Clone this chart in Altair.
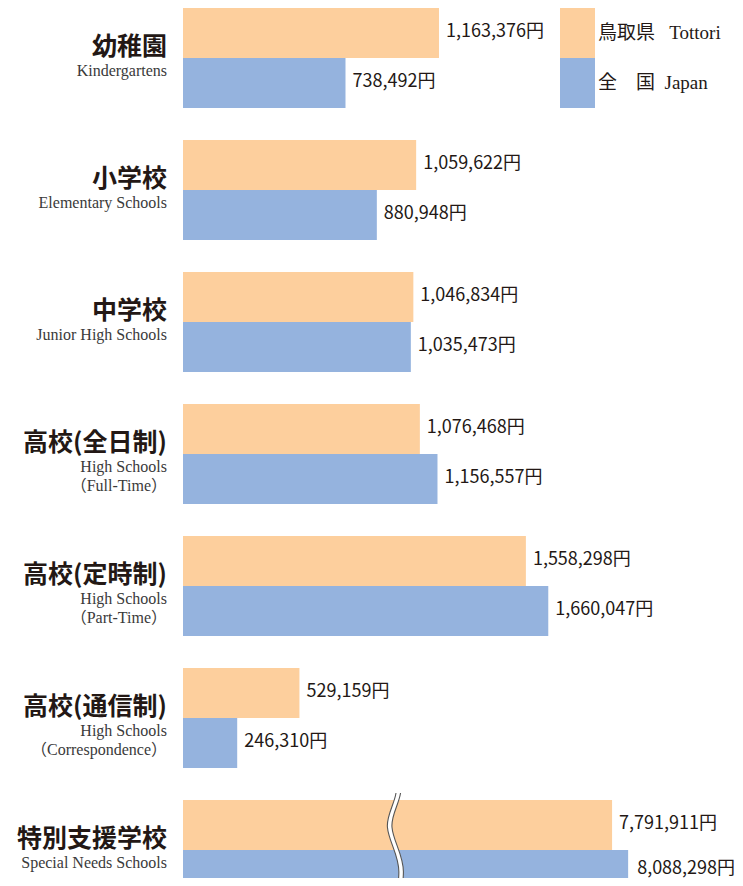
import altair as alt
import pandas as pd

# ---- data ----
categories_ja = ["幼稚園", "小学校", "中学校", "高校(全日制)", "高校(定時制)", "高校(通信制)", "特別支援学校"]
categories_en1 = ["Kindergartens", "Elementary Schools", "Junior High Schools", "High Schools",
                  "High Schools", "High Schools", "Special Needs Schools"]
categories_en2 = ["", "", "", "（Full-Time）", "（Part-Time）", "（Correspondence）", ""]
series = ["鳥取県", "全国"]
series_legend = ["鳥取県\u00a0\u00a0\u00a0Tottori", "全　国\u00a0\u00a0Japan"]
tottori = [1163376, 1059622, 1046834, 1076468, 1558298, 529159, 7791911]
japan = [738492, 880948, 1035473, 1156557, 1660047, 246310, 8088298]
# broken-axis category: drawn bar lengths (in axis units) after the break
broken_category = "特別支援学校"
broken_drawn = {"鳥取県": 1950000, "全国": 2023000}
break_at = 955000
colors = ["#FDCF9D", "#95B3DE"]

rows = []
for i, c in enumerate(categories_ja):
    for s, vals in zip(series, [tottori, japan]):
        v = vals[i]
        pv = broken_drawn[s] if c == broken_category else v
        last = (c == broken_category and s == series[1])
        rows.append({"cat": c, "series": s, "value": v, "plot_value": pv,
                     "label": f"{v:,}円", "last": last})
bars_df = pd.DataFrame(rows)
labels_df = pd.DataFrame({"cat": categories_ja, "en1": categories_en1, "en2": categories_en2})
legend_df = pd.DataFrame({"cat": [categories_ja[0]] * 2, "series": series, "text": series_legend})
break_df = pd.DataFrame({"cat": [broken_category], "x": [break_at]})

y_enc = alt.Y("cat:N", sort=categories_ja, axis=None,
              scale=alt.Scale(paddingInner=32 / 132, paddingOuter=0, range=[0, 892]))
yoff_enc = alt.YOffset("series:N", sort=series, scale=alt.Scale(paddingInner=0, paddingOuter=0))
x_scale = alt.Scale(domain=[0, 2545000], range=[0, 560], nice=False, zero=True)
color_enc = alt.Color("series:N", sort=series, scale=alt.Scale(domain=series, range=colors), legend=None)

bars = alt.Chart(bars_df).mark_bar(opacity=1).encode(
    x=alt.X("plot_value:Q", scale=x_scale, axis=None),
    y=y_enc, yOffset=yoff_enc, color=color_enc,
)
value_text = alt.Chart(bars_df).transform_filter("!datum.last").mark_text(
    align="left", baseline="middle", dx=7, dy=-1, fontSize=18, font="Noto Sans CJK JP", color="#231815"
).encode(
    x=alt.X("plot_value:Q", scale=x_scale, axis=None),
    y=y_enc, yOffset=yoff_enc, text="label:N",
)
value_text_last = alt.Chart(bars_df).transform_filter("datum.last").mark_text(
    align="left", baseline="middle", dx=9, dy=-6, fontSize=18, font="Noto Sans CJK JP", color="#231815"
).encode(
    x=alt.X("plot_value:Q", scale=x_scale, axis=None),
    y=y_enc, yOffset=yoff_enc, text="label:N",
)

title_ja = alt.Chart(labels_df).mark_text(
    align="right", baseline="middle", dy=-11, fontSize=25, fontWeight="bold",
    font="Noto Sans CJK JP", color="#231815"
).encode(x=alt.value(-16), y=y_enc, text="cat:N")
title_en1 = alt.Chart(labels_df).mark_text(
    align="right", baseline="middle", dy=13, fontSize=16,
    font="Liberation Serif, Noto Sans CJK JP", color="#3a3a3a"
).encode(x=alt.value(-16), y=y_enc, text="en1:N")
title_en2 = alt.Chart(labels_df).mark_text(
    align="right", baseline="middle", dy=32, fontSize=16,
    font="Liberation Serif, Noto Sans CJK JP", color="#3a3a3a"
).encode(x=alt.value(-16), y=y_enc, text="en2:N")

legend_rect = alt.Chart(legend_df).mark_bar(opacity=1).encode(
    x=alt.value(377), x2=alt.value(412), y=y_enc, yOffset=yoff_enc, color=color_enc,
)
legend_text = alt.Chart(legend_df).mark_text(
    align="left", baseline="middle", dx=0, fontSize=19,
    font="Liberation Serif, Noto Sans CJK JP", color="#231815"
).encode(x=alt.value(415), y=y_enc, yOffset=yoff_enc, text="text:N")

fill_path = ("M 0.05 -1 C 0.02 -0.8 -0.12 -0.6 -0.1 -0.4 C -0.08 -0.15 0.11 0.1 0.1 0.4 "
             "C 0.1 0.6 0.05 0.8 0.04 1 L 0.12 1 C 0.13 0.8 0.18 0.6 0.18 0.4 "
             "C 0.19 0.1 0 -0.15 -0.02 -0.4 C -0.04 -0.6 0.10 -0.8 0.13 -1 Z")
line_path = ("M 0.05 -1 C 0.02 -0.8 -0.12 -0.6 -0.1 -0.4 C -0.08 -0.15 0.11 0.1 0.1 0.4 "
             "C 0.1 0.6 0.05 0.8 0.04 1 "
             "M 0.13 -1 C 0.10 -0.8 -0.04 -0.6 -0.02 -0.4 C 0 -0.15 0.19 0.1 0.18 0.4 "
             "C 0.18 0.6 0.13 0.8 0.12 1")
break_fill = alt.Chart(break_df).mark_point(
    shape=fill_path, size=12996, filled=True, fill="white", strokeWidth=0, opacity=1
).encode(x=alt.X("x:Q", scale=x_scale, axis=None), y=y_enc)
break_line = alt.Chart(break_df).mark_point(
    shape=line_path, size=12996, filled=False, stroke="#555555", strokeWidth=1.1, opacity=1
).encode(x=alt.X("x:Q", scale=x_scale, axis=None), y=y_enc)

chart = alt.layer(
    bars, value_text, value_text_last, title_ja, title_en1, title_en2,
    legend_rect, legend_text, break_fill, break_line
).properties(
    width=552, height=870,
    autosize=alt.AutoSizeParams(type="none"),
    padding={"left": 175, "top": 0, "right": 0, "bottom": 0},
).configure_view(stroke=None)

chart.save("out.html", embed_options={"renderer": "svg", "actions": False})
